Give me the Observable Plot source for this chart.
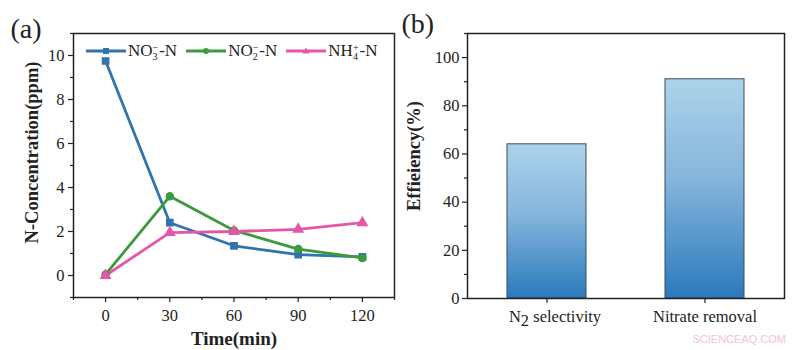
<!DOCTYPE html>
<html>
<head>
<meta charset="utf-8">
<script src="https://cdn.jsdelivr.net/npm/d3@7"></script>
<script src="https://cdn.jsdelivr.net/npm/@observablehq/plot@0.6"></script>
<style>
  body { margin: 0; background: #fff; }
  #wrap { position: relative; width: 800px; height: 350px; background: #fff; font-family: "Liberation Serif", "Times New Roman", serif; overflow: hidden; }
  .panel { position: absolute; top: 0; }
  .legend { position: absolute; left: 86px; top: 41px; display: flex; align-items: center; font-size: 17px; color: #222; white-space: nowrap; }
  .legend .item { display: flex; align-items: center; margin-right: 9px; }
  .legend svg { margin-right: 2px; }
  .ss { display: inline-block; vertical-align: middle; font-size: 10px; line-height: 9px; text-align: left; margin-right: 1px; }
  .wm { position: absolute; right: 14px; top: 333px; font-family: "Liberation Sans", Arial, sans-serif; font-size: 11px; color: #f2c4cb; }
</style>
</head>
<body>
<div id="wrap"></div>
<script>
// ---- data ----
const times = [0, 30, 60, 90, 120];
const seriesNames = ["NO3-N", "NO2-N", "NH4-N"];
const no3 = [9.75, 2.4, 1.35, 0.95, 0.85];
const no2 = [0.05, 3.6, 2.05, 1.2, 0.8];
const nh4 = [0.0, 1.95, 2.0, 2.1, 2.4];
const seriesColors = ["#2f74ad", "#3c9a3c", "#e457a8"];
const seriesSymbols = ["square", "circle", "triangle"];

const barCategories = ["N2 selectivity", "Nitrate removal"];
const barValues = [64, 91];

const xTicksA = [0, 30, 60, 90, 120];
const xMinorA = [-15, 15, 45, 75, 105, 135];
const yTicksA = [0, 2, 4, 6, 8, 10];
const yMinorA = [-1, 1, 3, 5, 7, 9, 11];
const yTicksB = [0, 20, 40, 60, 80, 100];
const yMinorB = [10, 30, 50, 70, 90, 110];

const lineData = [];
[no3, no2, nh4].forEach((arr, s) => arr.forEach((v, i) => lineData.push({t: times[i], v, s: seriesNames[s]})));
const barData = barCategories.map((c, i) => ({c, v: barValues[i]}));

const wrap = document.getElementById("wrap");
const fontStyle = {fontFamily: "'Liberation Serif', 'Times New Roman', serif", fontSize: "16px", color: "#222", background: "transparent", overflow: "visible"};

// ---- panel (a) ----
const plotA = Plot.plot({
  width: 400, height: 350,
  marginLeft: 73, marginRight: 6, marginTop: 33, marginBottom: 53,
  style: fontStyle,
  x: {domain: [-15, 135]},
  y: {domain: [-1, 11]},
  color: {domain: seriesNames, range: seriesColors},
  symbol: {domain: seriesNames, range: seriesSymbols},
  marks: [
    Plot.frame({stroke: "#222", strokeWidth: 1.5}),
    Plot.axisX({ticks: xTicksA, tickSize: 5, tickPadding: 7, label: null, fontSize: 16.5, stroke: "#222", strokeWidth: 1.2}),
    Plot.axisX({ticks: xMinorA, tickSize: 3, tickFormat: () => "", label: null, stroke: "#222", strokeWidth: 1.2}),
    Plot.axisY({ticks: yTicksA, tickSize: 5, tickPadding: 4, label: null, fontSize: 16.5, stroke: "#222", strokeWidth: 1.2}),
    Plot.axisY({ticks: yMinorA, tickSize: 3, tickFormat: () => "", label: null, stroke: "#222", strokeWidth: 1.2}),
    Plot.line(lineData, {x: "t", y: "v", stroke: "s", strokeWidth: 2.8}),
    Plot.dot(lineData, {x: "t", y: "v", fill: "s", stroke: "s", symbol: "s", r: 3.5}),
    Plot.text(["Time(min)"], {frameAnchor: "bottom", textAnchor: "middle", lineAnchor: "bottom", dy: 47, fontSize: 19, fontWeight: "bold", fill: "#222"}),
    Plot.text(["N-Concentration(ppm)"], {frameAnchor: "left", textAnchor: "middle", lineAnchor: "middle", dx: -41, dy: -13, rotate: -90, fontSize: 18.5, fontWeight: "bold", fill: "#222"}),
    Plot.text(["(a)"], {frameAnchor: "top-left", textAnchor: "start", lineAnchor: "middle", dx: -63, dy: -4, fontSize: 28, fill: "#222"})
  ]
});
const pa = document.createElement("div");
pa.className = "panel"; pa.style.left = "0px";
pa.appendChild(plotA);
wrap.appendChild(pa);

// legend (a)
const legend = document.createElement("div");
legend.className = "legend";
const labelsHTML = [
  'NO<span class="ss">&minus;<br>3</span>-N',
  'NO<span class="ss">&minus;<br>2</span>-N',
  'NH<span class="ss">+<br>4</span>-N'
];
seriesNames.forEach((n, i) => {
  const item = document.createElement("span");
  item.className = "item";
  const c = seriesColors[i];
  let marker;
  if (i === 0) marker = `<rect x="17" y="5" width="6" height="6" fill="${c}"/>`;
  else if (i === 1) marker = `<circle cx="20" cy="8" r="3" fill="${c}"/>`;
  else marker = `<path d="M20,4.5 L23.5,10.5 L16.5,10.5 Z" fill="${c}"/>`;
  item.innerHTML = `<svg width="40" height="16"><line x1="0" y1="8" x2="40" y2="8" stroke="${c}" stroke-width="2.8"/>${marker}</svg><span>${labelsHTML[i]}</span>`;
  legend.appendChild(item);
});
wrap.appendChild(legend);

// ---- panel (b) ----
const gradientDefs = () => {
  const defs = d3.create("svg:defs");
  const g = defs.append("linearGradient").attr("id", "barGrad").attr("x1", 0).attr("y1", 0).attr("x2", 0).attr("y2", 1);
  g.append("stop").attr("offset", "0%").attr("stop-color", "#acd3ea");
  g.append("stop").attr("offset", "45%").attr("stop-color", "#86b6dc");
  g.append("stop").attr("offset", "100%").attr("stop-color", "#2a7abd");
  return defs.node();
};

const plotB = Plot.plot({
  width: 400, height: 350,
  marginLeft: 67, marginRight: 16, marginTop: 33, marginBottom: 52,
  style: fontStyle,
  x: {domain: barCategories, type: "band", paddingInner: 0.5, paddingOuter: 0.25},
  y: {domain: [0, 110]},
  marks: [
    gradientDefs,
    Plot.barY(barData, {x: "c", y: "v", fill: "url(#barGrad)", stroke: "#3a4a5a", strokeWidth: 1}),
    Plot.frame({stroke: "#222", strokeWidth: 1.5}),
    Plot.axisX({tickSize: 5, tickPadding: 7, label: null, fontSize: 16.5, stroke: "#222", strokeWidth: 1.2}),
    Plot.axisY({ticks: yTicksB, tickSize: 5, tickPadding: 3, label: null, fontSize: 16.5, stroke: "#222", strokeWidth: 1.2}),
    Plot.axisY({ticks: yMinorB, tickSize: 3, tickFormat: () => "", label: null, stroke: "#222", strokeWidth: 1.2}),
    Plot.text(["Effieiency(%)"], {frameAnchor: "left", textAnchor: "middle", lineAnchor: "middle", dx: -53, dy: -10, rotate: -90, fontSize: 18.5, fontWeight: "bold", fill: "#222"}),
    Plot.text(["(b)"], {frameAnchor: "top-left", textAnchor: "start", lineAnchor: "middle", dx: -66, dy: -9, fontSize: 28, fill: "#222"})
  ]
});
// subscript in "N2 selectivity"
d3.select(plotB).selectAll("text").filter(function() { return this.textContent === "N2 selectivity"; })
  .each(function() {
    const t = d3.select(this);
    t.text(null);
    t.attr("dx", "8");
    t.append("tspan").text("N");
    t.append("tspan").attr("dy", "0.25em").text("2");
    t.append("tspan").attr("dy", "-0.25em").attr("dx", "0.25em").text("selectivity");
  });
const pb = document.createElement("div");
pb.className = "panel"; pb.style.left = "400px";
pb.appendChild(plotB);
wrap.appendChild(pb);

// watermark
const wm = document.createElement("div");
wm.className = "wm"; wm.textContent = "SCIENCEAQ.COM";
wrap.appendChild(wm);
</script>
</body>
</html>
